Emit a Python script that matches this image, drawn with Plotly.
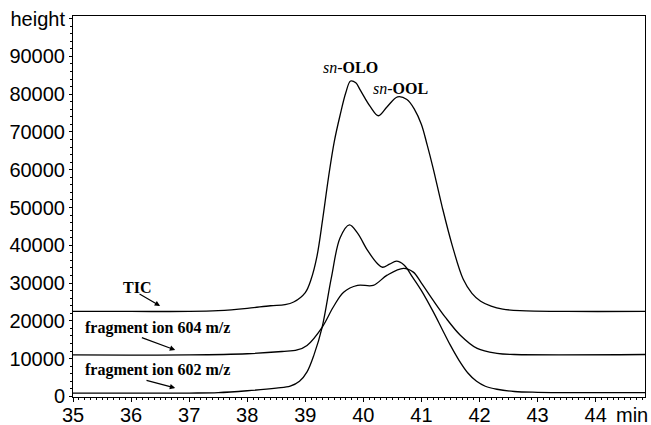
import plotly.graph_objects as go

# ---- data ----
tic_t = [35, 36, 37, 37.5, 38, 38.4, 38.65, 38.8, 39.0, 39.1, 39.2, 39.3, 39.4, 39.5, 39.6, 39.7,
         39.78, 39.87, 39.95, 40.12, 40.26, 40.41, 40.59, 40.75, 40.88, 41.0, 41.1, 41.2, 41.36,
         41.53, 41.72, 41.87, 42.02, 42.2, 42.4, 42.7, 43.5, 44.85]
tic_v = [22500, 22500, 22500, 22700, 23300, 24000, 24300, 25000, 27500, 31000, 37000, 47000, 58000,
         67500, 74500, 80500, 83500, 83000, 81000, 76700, 74300, 76700, 79300, 78600, 76000, 72000,
         66500, 60500, 50000, 40000, 31000, 27300, 25200, 23900, 23100, 22700, 22500, 22500]

f604_t = [35, 37, 38, 38.6, 38.86, 39.03, 39.29, 39.48, 39.66, 39.9, 40.17, 40.41, 40.69, 40.86,
          41.0, 41.2, 41.41, 41.67, 41.96, 42.3, 42.6, 44.85]
f604_v = [11000, 11000, 11300, 11900, 12300, 13500, 18300, 23600, 27600, 29400, 29400, 32100, 33900,
          32900, 30000, 25500, 21000, 16200, 12700, 11400, 11100, 11100]

f602_t = [35, 37, 37.5, 38, 38.5, 38.74, 38.9, 39.03, 39.15, 39.29, 39.45, 39.6, 39.76, 39.9, 40.07,
          40.24, 40.33, 40.45, 40.57, 40.7, 40.85, 41.0, 41.2, 41.35, 41.5, 41.65, 41.8, 41.95,
          42.1, 42.3, 42.6, 43.0, 44.85]
f602_v = [900, 900, 1000, 1500, 2200, 2700, 4000, 6500, 11000, 18300, 31500, 42000, 45400, 43200,
          38700, 35200, 34200, 35000, 35800, 34800, 31500, 28000, 22500, 18000, 13500, 9500, 6200,
          4000, 2700, 1900, 1300, 1100, 1000]

x_ticks = [35, 36, 37, 38, 39, 40, 41, 42, 43, 44]
y_ticks = [0, 10000, 20000, 30000, 40000, 50000, 60000, 70000, 80000, 90000, 100000]
y_ticktext = ["0", "10000", "20000", "30000", "40000", "50000", "60000", "70000", "80000", "90000", "height"]

fig = go.Figure()
for t, v in [(tic_t, tic_v), (f604_t, f604_v), (f602_t, f602_v)]:
    fig.add_trace(go.Scatter(x=t, y=v, mode="lines",
                             line=dict(color="black", width=1.3, shape="spline", smoothing=1.0),
                             showlegend=False, hoverinfo="skip"))

serif_bold = dict(family="Liberation Serif", size=16, color="black")

def arrow_label(text, tx, ty, x0, y0, x1, y1):
    fig.add_annotation(x=tx, y=ty, text=text, showarrow=False, font=serif_bold,
                       xref="x", yref="y")
    fig.add_annotation(x=x1, y=y1, ax=x0, ay=y0, xref="x", yref="y", axref="x", ayref="y",
                       text="", showarrow=True, arrowhead=2, arrowsize=0.9, arrowwidth=1.2,
                       arrowcolor="black")

arrow_label("<b>TIC</b>", 36.10, 28960, 36.12, 27370, 36.50, 23930)
arrow_label("<b>fragment ion 604 m/z</b>", 36.45, 18100, 36.16, 15720, 36.76, 12280)
arrow_label("<b>fragment ion 602 m/z</b>", 36.45, 6990, 36.24, 4340, 36.76, 2220)

fig.add_annotation(x=39.78, y=87200, text="<i>sn</i>-<b>OLO</b>", showarrow=False, font=serif_bold)
fig.add_annotation(x=40.64, y=81600, text="<i>sn</i>-<b>OOL</b>", showarrow=False, font=serif_bold)

fig.add_annotation(x=44.62, y=-0.012, xref="x", yref="paper", yanchor="top", text="min",
                   showarrow=False, font=dict(family="Liberation Sans", size=20, color="black"))

fig.update_xaxes(range=[35, 44.85], tickvals=x_ticks, ticks="outside", ticklen=4, tickcolor="black",
                 showline=True, linecolor="black", linewidth=1, mirror=True, showgrid=False,
                 zeroline=False, automargin=False, ticklabelstandoff=-4,
                 tickfont=dict(family="Liberation Sans", size=20, color="black"),
                 minor=dict(dtick=0.1, ticks="outside", ticklen=2, tickcolor="black"))
fig.update_yaxes(range=[-150, 100700], tickvals=y_ticks, ticktext=y_ticktext, ticks="outside",
                 ticklen=3, tickcolor="black", showline=True, linecolor="black", linewidth=1,
                 mirror=True, showgrid=False, zeroline=False, automargin=False,
                 tickfont=dict(family="Liberation Sans", size=20, color="black"),
                 minor=dict(dtick=2000, ticks="outside", ticklen=2, tickcolor="black"))

fig.update_layout(width=651, height=425, margin=dict(l=73, r=6, t=16, b=28),
                  plot_bgcolor="white", paper_bgcolor="white")

fig.write_html("out.html")
